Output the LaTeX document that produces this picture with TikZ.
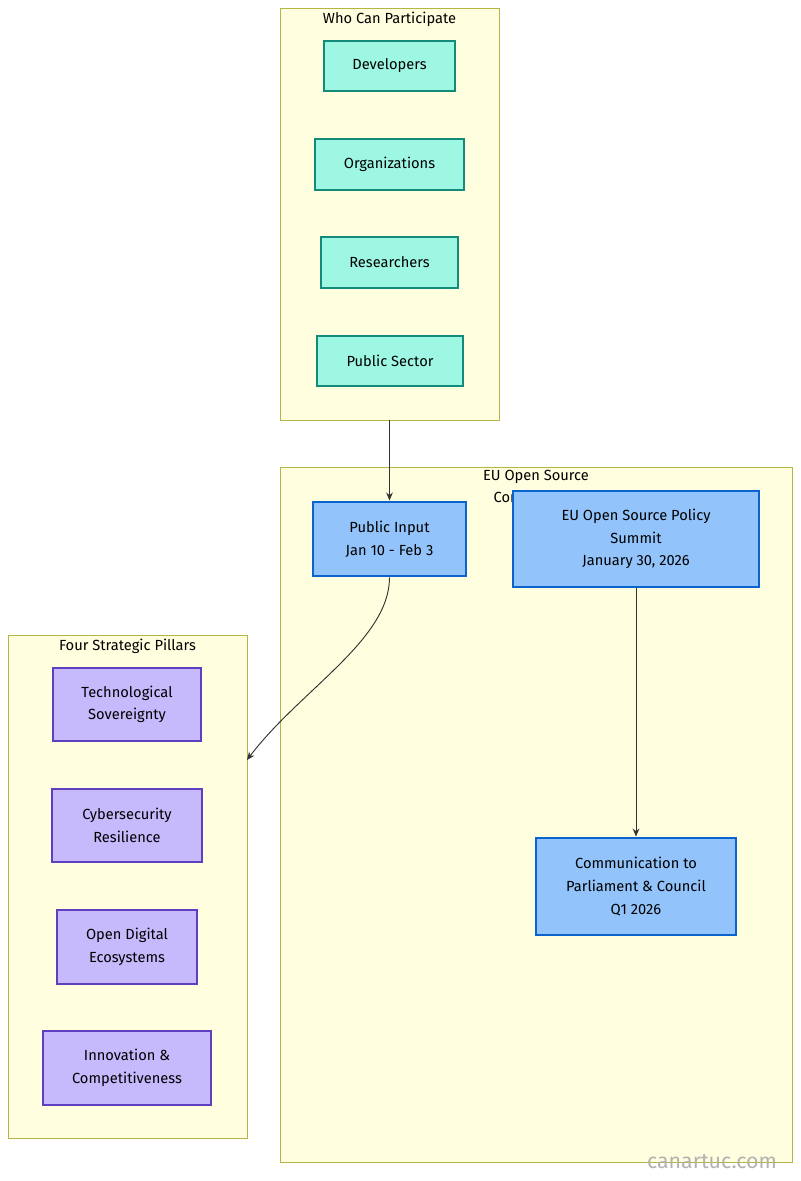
\documentclass[tikz,border=0pt]{standalone}
\usepackage{fontspec}
\setmainfont{Fira Sans}
\usetikzlibrary{arrows.meta}
\definecolor{clfill}{HTML}{FFFEDE}
\definecolor{cldraw}{HTML}{B5B546}
\definecolor{tfill}{HTML}{9EF7E3}
\definecolor{tdraw}{HTML}{138A7A}
\definecolor{bfill}{HTML}{92C3FA}
\definecolor{bdraw}{HTML}{0A64D0}
\definecolor{pfill}{HTML}{C6B9FC}
\definecolor{pdraw}{HTML}{5E3FBF}
\tikzset{
 cluster/.style={draw=cldraw,fill=clfill,line width=0.6pt},
 ctitle/.style={font=\fontsize{11pt}{16pt}\selectfont,align=center,anchor=north},
 box/.style={font=\fontsize{11pt}{17pt}\selectfont,align=center},
 teal/.style={box,draw=tdraw,fill=tfill,line width=1pt},
 blue/.style={box,draw=bdraw,fill=bfill,line width=2.2pt},
 purp/.style={box,draw=pdraw,fill=pfill,line width=1pt},
 conn/.style={draw=black!80,line width=0.7pt,-{Stealth[length=6pt,width=5pt]}}
}
\newcommand{\bx}[5]{\node[#1,minimum width={(#4-#2)*0.75pt},minimum height={(#5-#3)*0.75pt},inner sep=0pt] at ({(#2+#4)/2},{(#3+#5)/2})}
\begin{document}
\begin{tikzpicture}[x=0.75pt,y=-0.75pt]
\useasboundingbox (0,0) rectangle (800,1181);
\draw[cluster] (280,8) rectangle (499,420);
\node[ctitle] (whot) at (389.5,7) {Who Can Participate};
\draw[cluster] (280,467) rectangle (792,1162);
\node[ctitle] (eut) at (536,466) {EU Open Source\\Consultation};
\draw[cluster] (8,635) rectangle (247,1138);
\node[ctitle] (fourt) at (127.5,634) {Four Strategic Pillars};
\coordinate (whob) at (389.5,420);
\coordinate (fourr) at (247,760);

\bx{teal}{324}{41}{455}{91} (dev) {Developers};
\bx{teal}{315}{139}{464}{190} (org) {Organizations};
\bx{teal}{321}{237}{458}{288} (res) {Researchers};
\bx{teal}{317}{336}{463}{386} (pub) {Public Sector};

\bx{blue}{313}{502}{466}{576} (inp) {Public Input\\Jan 10 - Feb 3};
\bx{blue}{513}{491}{759}{587} (sum) {EU Open Source Policy\\Summit\\January 30, 2026};
\bx{blue}{536}{838}{736}{935} (com) {Communication to\\Parliament \& Council\\Q1 2026};

\bx{purp}{53}{668}{201}{741} (tech) {Technological\\Sovereignty};
\bx{purp}{52}{789}{202}{862} (cyb) {Cybersecurity\\Resilience};
\bx{purp}{57}{910}{197}{984} (odg) {Open Digital\\Ecosystems};
\bx{purp}{43}{1031}{211}{1105} (inn) {Innovation \&\\Competitiveness};

\draw[conn] (whob) -- (inp.north);
\draw[conn] (inp.south) .. controls (389.5,640) and (300,690) .. (fourr);
\draw[conn] (sum.south) -- (com.north);
\node[text=black!30,font=\fontsize{16pt}{18pt}\selectfont] (wm) at (712,1162) {canartuc.com};
\end{tikzpicture}
\end{document}
